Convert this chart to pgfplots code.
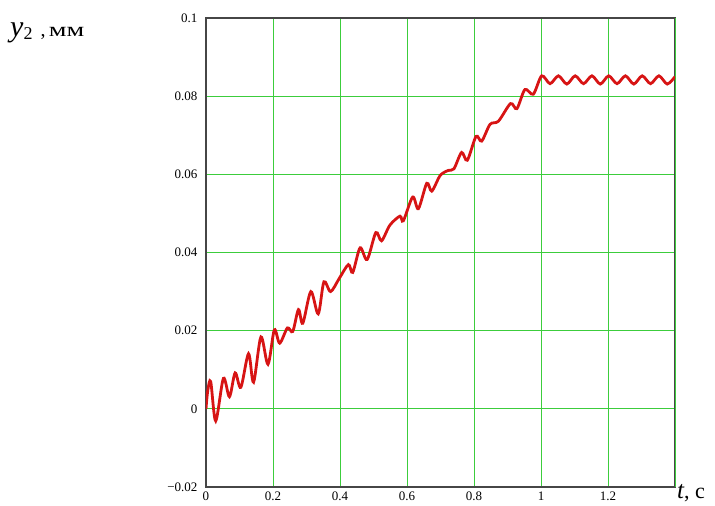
\documentclass[border=0pt]{standalone}
\usepackage{pgfplots}
\pgfplotsset{compat=1.18}
\usepackage{fontspec}
\setmainfont{Liberation Serif}
\definecolor{gridgreen}{RGB}{60,205,60}
\definecolor{curvered}{RGB}{215,20,20}
\definecolor{framegray}{RGB}{70,70,70}
\begin{document}
\begin{tikzpicture}
\path[use as bounding box] (-206pt,-19pt) rectangle (509pt,487pt);
\begin{axis}[
  at={(0,0)}, anchor=south west,
  scale only axis, width=469pt, height=469pt,
  xmin=0, xmax=1.4, ymin=-0.02, ymax=0.1,
  xtick={0,0.2,0.4,0.6,0.8,1,1.2},
  xticklabels={0,0.2,0.4,0.6,0.8,1,1.2},
  ytick={-0.02,0,0.02,0.04,0.06,0.08,0.1},
  yticklabels={−0.02,0,0.02,0.04,0.06,0.08,0.1},
  extra x ticks={1.4}, extra x tick labels={},
  grid=major, grid style={gridgreen, line width=0.8pt},
  axis line style={framegray, line width=1.3pt},
  major tick length=0pt,
  tick label style={font=\fontsize{13}{15}\selectfont},
  yticklabel style={xshift=-5pt},
  xticklabel style={yshift=-1pt},
]
\addplot[curvered, line width=2.8pt, smooth] coordinates {
(0.000,0.0000) (0.005,0.0045) (0.014,0.0070) (0.029,-0.0031) (0.052,0.0078)
(0.070,0.0031) (0.087,0.0092) (0.104,0.0055) (0.127,0.0141) (0.142,0.0068)
(0.164,0.0184) (0.185,0.0114) (0.204,0.0202) (0.220,0.0168) (0.243,0.0207)
(0.259,0.0198) (0.276,0.0254) (0.289,0.0219) (0.313,0.0300) (0.335,0.0243)
(0.352,0.0325) (0.372,0.0300) (0.398,0.0334) (0.425,0.0369) (0.438,0.0349)
(0.460,0.0412) (0.481,0.0382) (0.507,0.0451) (0.524,0.0430) (0.549,0.0470)
(0.579,0.0493) (0.589,0.0481) (0.617,0.0542) (0.634,0.0512) (0.659,0.0577)
(0.674,0.0557) (0.699,0.0597) (0.723,0.0610) (0.740,0.0614) (0.763,0.0656)
(0.780,0.0636) (0.806,0.0697) (0.823,0.0685) (0.848,0.0728) (0.873,0.0736)
(0.909,0.0781) (0.928,0.0768) (0.952,0.0817) (0.977,0.0805) (1.002,0.0852)
(1.027,0.0832) (1.052,0.0852) (1.077,0.0831) (1.102,0.0852) (1.127,0.0832)
(1.152,0.0852) (1.177,0.0831) (1.202,0.0852) (1.227,0.0832) (1.252,0.0852)
(1.277,0.0831) (1.302,0.0852) (1.327,0.0832) (1.352,0.0852) (1.377,0.0831)
(1.400,0.0850)
};
\end{axis}
\node[anchor=base west, inner sep=0pt] at (471pt,-12pt)
  {{\fontsize{25}{25}\selectfont\itshape t}{\fontsize{22}{22}\selectfont, с}};
\node[anchor=base west, inner sep=0pt] at (-196pt,450pt)
  {{\fontsize{30}{30}\selectfont\itshape y}\raisebox{-0.3em}{\fontsize{18}{18}\selectfont 2}\hspace{8pt}{\fontsize{20}{20}\selectfont ,\,\scalebox{1.4}[1]{мм}}};
\end{tikzpicture}
\end{document}
